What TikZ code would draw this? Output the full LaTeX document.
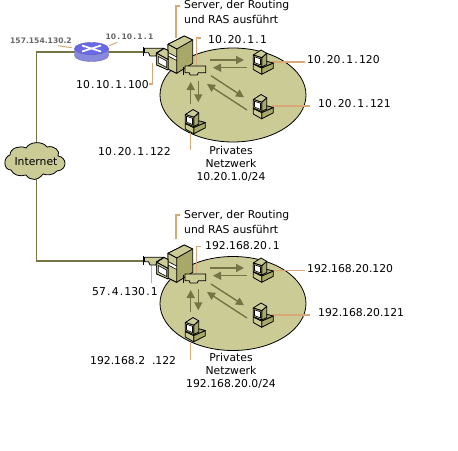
\documentclass[tikz,border=0pt]{standalone}
\usepackage{fontspec}
\setmainfont{DejaVu Sans}
\usetikzlibrary{arrows.meta,shapes.geometric}
\definecolor{lan}{HTML}{CBCB96}
\definecolor{wire}{HTML}{747444}
\definecolor{lead}{HTML}{D8A878}
\definecolor{srv}{HTML}{A8A868}
\definecolor{blue1}{HTML}{6A6AE8}
\definecolor{blue2}{HTML}{8888DC}
\newcommand\ipdot{\kern1.2pt.\kern1.2pt}
\tikzset{
  x=1pt,y=-1pt,
  lbl/.style={inner sep=0pt,font=\fontsize{10.8}{13}\selectfont,text=black},
  llbl/.style={lbl,anchor=west},
  clbl/.style={lbl,align=center,anchor=center},
  rlbl/.style={inner sep=0pt,font=\fontsize{7.6}{8}\bfseries\selectfont,text=black!60},
  leader/.style={draw=lead,line width=1.4pt},
  wireline/.style={draw=wire,line width=1.4pt},
  flow/.style={draw=wire,line width=1.4pt,-{Triangle[length=8pt,width=8pt]}},
  outl/.style={draw=black,line width=.8pt,line join=round},
  pc/.pic={
    \path[outl,fill=srv] (-1.3,9) -- (10.3,4) -- (10.3,9.3) -- (-1.3,15.3) -- cycle;
    \path[outl,fill=lan] (-9.7,5) -- (-1.3,9) -- (-1.3,15.3) -- (-9.7,10.5) -- cycle;
    \path[outl,fill=srv] (-9.7,5) -- (-1.3,1) -- (10.3,4) -- (-1.3,9) -- cycle;
    \path[outl,fill=srv] (-1.3,-1.3) -- (3.7,-5.7) -- (3.7,5.5) -- (-1.3,8) -- cycle;
    \path[outl,fill=lan] (-9.7,-4) -- (-2,-9) -- (3.7,-5.7) -- (-1.3,-1.3) -- cycle;
    \path[outl,fill=lan] (-9.7,-4) -- (-1.3,-1.3) -- (-1.3,8) -- (-9.7,4.5) -- cycle;
    \path[draw=black,line width=.6pt,fill=white] (-8.5,-2.2) -- (-2.5,-0.2) -- (-2.5,6) -- (-8.5,3.5) -- cycle;
  },
  server/.pic={
    \path[outl,fill=srv] (0,8.3) -- (16.3,0) -- (24.7,4) -- (24.7,27.3) -- (8.7,37.3) -- (0,33) -- cycle;
    \path[outl,fill=lan] (0,8.3) -- (16.3,0) -- (24.7,4) -- (8.7,13) -- cycle;
    \path[outl,fill=lan] (0,8.3) -- (8.7,13) -- (8.7,37.3) -- (0,33) -- cycle;
    \path[fill=white] (0.5,17) -- (8.2,21) -- (8.2,24) -- (0.5,20) -- cycle;
    \draw[line width=.6pt] (0,16.5) -- (8.7,21) (0,20) -- (8.7,24.5);
    \path[outl,fill=srv] (-11.3,17.3) -- (-4,12.5) -- (0,14.5) -- (0,33) -- (-11.3,29) -- cycle;
    \path[outl,fill=lan] (-11.3,17.3) -- (-4,12.5) -- (0,14.5) -- (0,23.5) -- cycle;
    \path[outl,fill=lan] (-11.3,17.3) -- (0,23.5) -- (0,34) -- (-11.3,29) -- cycle;
    \path[draw=black,line width=.6pt,fill=white] (-9.7,20.5) -- (-1.3,25) -- (-1.3,31.5) -- (-9.7,27) -- cycle;
  },
  leftnic/.pic={
    \path[outl,fill=lan] (0,0.8) -- (19.5,0.8) -- (12,5.2) -- (11.5,8.5) -- (5.5,8.5) -- (4,5.2) -- (0,5.2) -- cycle;
    \draw[line width=.7pt] (-1,-0.5) -- (-1,8.5);
  },
  rightnic/.pic={
    \path[outl,fill=lan] (-1,-1) -- (19.7,-1) -- (19.7,5.7) -- (12.3,5.7) -- (11.3,8) -- (4,8) -- (3.3,5.7) -- (-1,5.7) -- cycle;
    \draw[line width=.7pt] (-2.5,0) -- (-2.5,8);
  },
}
\begin{document}
\begin{tikzpicture}
\useasboundingbox (0,0) rectangle (458,450);
\fill[white] (0,0) rectangle (458,450);

% wires
\coordinate (wanA) at (143,52);
\coordinate (wanB) at (143,261);
\coordinate (cornerA) at (36.6,52);
\coordinate (cornerB) at (36.6,261);
\coordinate (routerP) at (91,52);
\coordinate (cloudP) at (36.6,161);
\draw[wireline] (routerP) -- (cornerA) -- (cloudP) -- (cornerB) -- (wanB);
\draw[wireline] (routerP) -- (wanA);

% router
\path[draw=blue2!80!black,line width=.4pt,fill=blue2] (74.5,48.5) -- (74.5,55.5) arc[start angle=180,end angle=0,x radius=17,y radius=6] -- (108.5,48.5) -- cycle;
\path[draw=blue1!80!black,line width=.4pt,fill=blue1] (91.5,48.5) ellipse[x radius=17,y radius=6];
\draw[white,line width=1.7pt] (82,45.5) -- (101,51.5) (82,51.5) -- (101,45.5);

% cloud
\path[draw=black,line width=.8pt,fill=lan] (11,170)
  .. controls (3,170) and (3,157) .. (10,155)
  .. controls (10,148) and (20,145) .. (26,148)
  .. controls (30,141) and (43,141) .. (47,147)
  .. controls (54,145) and (61,151) .. (58,156)
  .. controls (67,157) and (68,170) .. (57,171)
  .. controls (53,176) and (46,175) .. (43,174)
  .. controls (38,181) and (30,181) .. (26,175)
  .. controls (20,177) and (13,175) .. (11,170) -- cycle;
\node[lbl] (inet) at (36,161.5) {Internet};

% router labels
\node[rlbl,anchor=west] (rA) at (10,40.5) {157.154.130.2};
\node[rlbl,anchor=west] (rB) at (105.5,37) {10\ipdot 10\ipdot 1\ipdot 1};
\draw[leader,line width=1pt] (58,45.7) -- (71.7,47.7);
\draw[leader,line width=1pt] (117.3,42.3) -- (109.3,45.7);

% upper network
\begin{scope}[shift={(0,0)}]
  \path[draw=black,line width=.8pt,fill=lan] (233,95) ellipse[x radius=73,y radius=47];
  \draw[leader] (176,38) |- (180,6);
  \draw[leader] (152.3,63) |- (149,84);
  \draw[leader] (196.7,67) |- (200.7,38);
  \draw[leader] (272,62) -- (305,62);
  \draw[leader] (272,106) -- (310,106);
  \draw[leader] (190.7,133) -- (190.7,150);
  \pic at (168,36) {server};
  \pic at (144.5,47.5) {leftnic};
  \pic at (186,67) {rightnic};
  \pic at (263,59) {pc};
  \pic at (263,103.5) {pc};
  \pic at (195,118.5) {pc};
  \draw[flow] (210,60) -- (244,60);
  \draw[flow] (247,67.7) -- (213,67.7);
  \draw[flow] (211,75.7) -- (244,97.3);
  \draw[flow] (247,110) -- (207,84);
  \draw[flow] (190.7,104) -- (190.7,82);
  \draw[flow] (198.3,80.7) -- (198.3,102.3);
  \node[llbl] (s1) at (184,6) {Server, der Routing};
  \node[llbl] (s2) at (184,19) {und RAS ausführt};
  \node[llbl] (g1) at (208,40) {10\ipdot 20\ipdot 1\ipdot 1};
  \node[llbl] (p1) at (307,60) {10\ipdot 20\ipdot 1\ipdot 120};
  \node[llbl] (p2) at (318,104) {10\ipdot 20\ipdot 1\ipdot 121};
  \node[llbl] (p3) at (98,152) {10\ipdot 20\ipdot 1\ipdot 122};
  \node[llbl] (e1) at (76,85) {10\ipdot 10\ipdot 1\ipdot 100};
  \node[clbl] (n1) at (231,163.5) {Privates\\Netzwerk\\10.20.1.0/24};
\end{scope}

% lower network
\begin{scope}[shift={(0,209)}]
  \path[draw=black,line width=.8pt,fill=lan] (233,94.5) ellipse[x radius=73,y radius=47];
  \draw[leader] (176,30) |- (180,6);
  \draw[leader] (151.7,56) -- (151.7,74);
  \draw[leader] (196.7,66) |- (200.7,37.7);
  \draw[leader] (272,61.7) -- (305,61.7);
  \draw[leader] (272,106) -- (310,106);
  \draw[leader] (190.7,134) -- (190.7,151);
  \pic at (168,36) {server};
  \pic at (144.5,47.5) {leftnic};
  \pic at (186,66) {rightnic};
  \pic at (263,58) {pc};
  \pic at (263,103) {pc};
  \pic at (195,117.5) {pc};
  \draw[flow] (210,59) -- (244,59);
  \draw[flow] (247,66.7) -- (213,66.7);
  \draw[flow] (211,75) -- (244,96.3);
  \draw[flow] (247,109) -- (207,83);
  \draw[flow] (190.7,103) -- (190.7,81);
  \draw[flow] (198.3,80) -- (198.3,101.3);
  \node[llbl] (s3) at (184,7) {Server, der Routing};
  \node[llbl] (s4) at (184,20) {und RAS ausführt};
  \node[llbl] (g2) at (205,37) {192.168.20\ipdot 1};
  \node[llbl] (q1) at (307,60) {192.168.20.120};
  \node[llbl] (q2) at (318,104) {192.168.20.121};
  \node[llbl] (q3) at (90,152) {192.168.2\ \ .122};
  \node[llbl] (e2) at (92,83) {57\ipdot 4\ipdot 130\ipdot 1};
  \node[clbl] (n2) at (231,162) {Privates\\Netzwerk\\192.168.20.0/24};
\end{scope}
\end{tikzpicture}
\end{document}
